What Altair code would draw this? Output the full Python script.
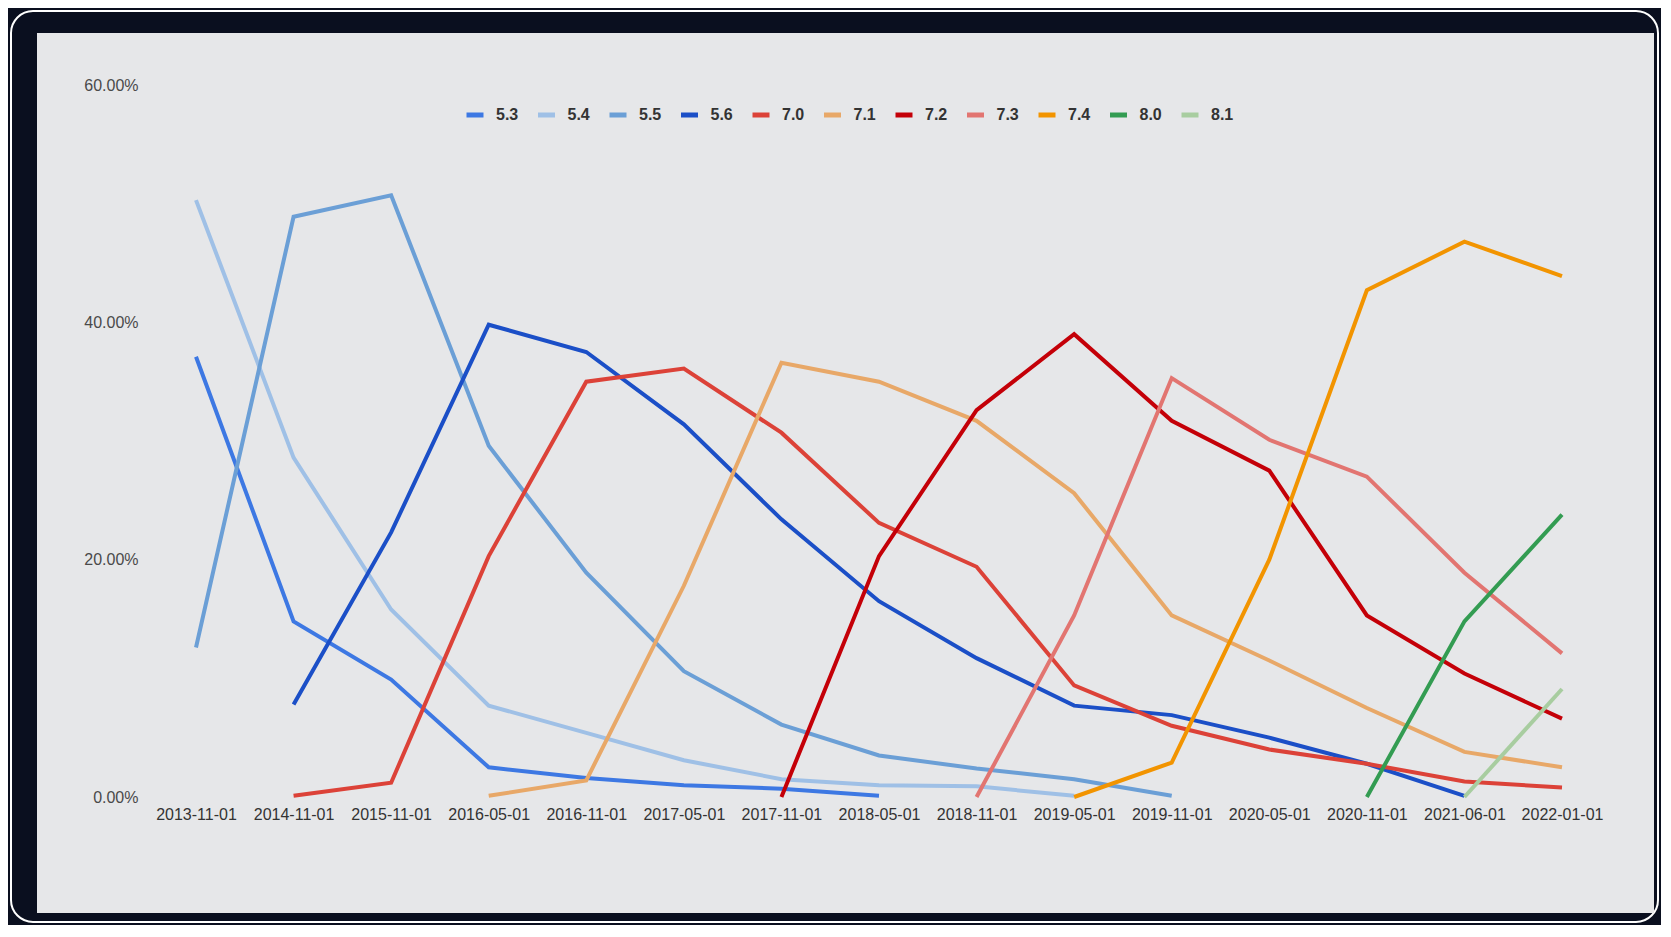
import altair as alt
import pandas as pd

cats = ["2013-11-01", "2014-11-01", "2015-11-01", "2016-05-01", "2016-11-01",
        "2017-05-01", "2017-11-01", "2018-05-01", "2018-11-01", "2019-05-01",
        "2019-11-01", "2020-05-01", "2020-11-01", "2021-06-01", "2022-01-01"]

N = None
v53 = [37.1, 14.8, 9.9, 2.5, 1.6, 1.0, 0.7, 0.1, N, N, N, N, N, N, N]
v54 = [50.3, 28.6, 15.8, 7.7, 5.4, 3.1, 1.5, 1.0, 0.9, 0.1, N, N, N, N, N]
v55 = [12.6, 48.9, 50.7, 29.6, 18.9, 10.6, 6.1, 3.5, 2.4, 1.5, 0.1, N, N, N, N]
v56 = [N, 7.8, 22.3, 39.8, 37.5, 31.4, 23.4, 16.5, 11.7, 7.7, 6.9, 5.0, 2.8, 0.1, N]
v70 = [N, 0.1, 1.2, 20.3, 35.0, 36.1, 30.7, 23.1, 19.4, 9.4, 6.0, 4.0, 2.8, 1.3, 0.8]
v71 = [N, N, N, 0.1, 1.4, 17.8, 36.6, 35.0, 31.7, 25.6, 15.3, 11.5, 7.5, 3.8, 2.5]
v72 = [N, N, N, N, N, N, 0.0, 20.3, 32.6, 39.0, 31.7, 27.5, 15.3, 10.4, 6.6]
v73 = [N, N, N, N, N, N, N, N, 0.0, 15.3, 35.3, 30.1, 27.0, 18.9, 12.1]
v74 = [N, N, N, N, N, N, N, N, N, 0.0, 2.9, 20.0, 42.7, 46.8, 43.9]
v80 = [N, N, N, N, N, N, N, N, N, N, N, N, 0.0, 14.8, 23.8]
v81 = [N, N, N, N, N, N, N, N, N, N, N, N, N, 0.0, 9.1]

series_names = ["5.3", "5.4", "5.5", "5.6", "7.0", "7.1", "7.2", "7.3", "7.4", "8.0", "8.1"]
series_vals = [v53, v54, v55, v56, v70, v71, v72, v73, v74, v80, v81]
colors = ["#3d78e3", "#9fc0e6", "#6b9fd6", "#1b4fc7", "#dc4238", "#e8a868",
          "#c40008", "#e27571", "#f29400", "#339c52", "#a8cda0"]

rows = []
for name, vals in zip(series_names, series_vals):
    for c, v in zip(cats, vals):
        if v is not None:
            rows.append({"date": c, "version": name, "share": v / 100.0})
df = pd.DataFrame(rows)

W, H = 1366, 712
one = pd.DataFrame({"k": [0]})

frame = alt.Chart(one).mark_rect(
    fill="#0a0f1f", stroke="#ffffff", strokeWidth=2, cornerRadius=22
).encode(x=alt.value(-185), x2=alt.value(1462), y=alt.value(-74), y2=alt.value(837))

panel = alt.Chart(one).mark_rect(fill="#e6e7e9").encode(
    x=alt.value(-159), x2=alt.value(1458), y=alt.value(-52), y2=alt.value(828)
)

lines = alt.Chart(df).mark_line(strokeWidth=4).encode(
    x=alt.X("date:O", sort=cats, scale=alt.Scale(type="point", padding=0),
            axis=alt.Axis(title=None, labelAngle=0, domain=False, ticks=False,
                          grid=False, labelPadding=9, labelFontSize=16, zindex=2,
                          labelColor="#333333", labelFont="Liberation Sans")),
    y=alt.Y("share:Q", scale=alt.Scale(domain=[0, 0.6], nice=False),
            axis=alt.Axis(title=None, values=[0, 0.2, 0.4, 0.6], format=".2%",
                          domain=False, ticks=False, grid=False, labelPadding=58,
                          labelFontSize=16, labelColor="#4a4a4a", zindex=2,
                          labelFont="Liberation Sans")),
    color=alt.Color("version:N", scale=alt.Scale(domain=series_names, range=colors),
                    legend=alt.Legend(title=None, orient="none", direction="horizontal",
                                      legendX=268, legendY=19, padding=0, zindex=2,
                                      symbolType="stroke", symbolStrokeWidth=5,
                                      symbolSize=289, labelOffset=10,
                                      columnPadding=8.5, labelFontSize=16,
                                      labelFontWeight="bold", labelColor="#333333",
                                      labelFont="Liberation Sans")),
    detail="version:N",
)

chart = alt.layer(frame, panel, lines).properties(
    width=W, height=H,
    autosize=alt.AutoSizeParams(type="none"),
    padding={"left": 188, "top": 77, "right": 99, "bottom": 128},
    background="#0a0f1f",
).configure_view(stroke=None)

chart.save("out.html", embed_options={"renderer": "svg", "actions": False})
